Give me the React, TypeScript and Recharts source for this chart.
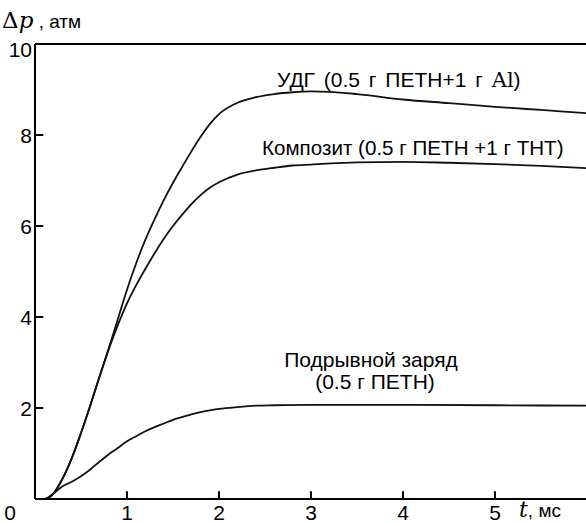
import React from "react";
import { LineChart, Line, XAxis, YAxis, ReferenceLine } from "recharts";

// время, мс и давление, атм
const udgT = [0, 0.1, 0.2, 0.3, 0.4, 0.5, 0.6, 0.7, 0.8, 0.9, 1.0, 1.1, 1.2, 1.3, 1.4, 1.5, 1.6, 1.7, 1.8, 1.9, 2.0, 2.2, 2.4, 2.6, 2.8, 3.0, 3.2, 3.5, 4.0, 4.5, 5.0, 5.5, 6.0];
const udgP = [0, 0, 0.12, 0.45, 0.9, 1.45, 2.05, 2.68, 3.3, 3.95, 4.6, 5.18, 5.7, 6.15, 6.57, 6.95, 7.3, 7.64, 7.96, 8.24, 8.46, 8.71, 8.83, 8.9, 8.94, 8.96, 8.95, 8.9, 8.78, 8.7, 8.62, 8.55, 8.48];

const compT = [0, 0.1, 0.2, 0.3, 0.4, 0.5, 0.6, 0.7, 0.8, 0.9, 1.0, 1.1, 1.2, 1.3, 1.4, 1.5, 1.6, 1.7, 1.8, 1.9, 2.0, 2.2, 2.4, 2.6, 2.8, 3.0, 3.5, 4.0, 4.5, 5.0, 5.5, 6.0];
const compP = [0, 0, 0.12, 0.45, 0.9, 1.45, 2.05, 2.68, 3.28, 3.82, 4.3, 4.7, 5.06, 5.4, 5.72, 6.0, 6.25, 6.48, 6.68, 6.84, 6.96, 7.13, 7.22, 7.28, 7.33, 7.35, 7.4, 7.41, 7.39, 7.36, 7.32, 7.27];

const chargeT = [0, 0.1, 0.2, 0.3, 0.4, 0.5, 0.6, 0.7, 0.8, 0.9, 1.0, 1.1, 1.2, 1.3, 1.4, 1.5, 1.6, 1.7, 1.8, 1.9, 2.0, 2.2, 2.4, 2.6, 3.0, 4.0, 5.0, 6.0];
const chargeP = [0, 0, 0.12, 0.28, 0.38, 0.5, 0.65, 0.82, 0.98, 1.12, 1.27, 1.38, 1.49, 1.58, 1.66, 1.74, 1.8, 1.86, 1.91, 1.95, 1.98, 2.02, 2.05, 2.06, 2.07, 2.07, 2.06, 2.05];

const xTicks = [0, 1, 2, 3, 4, 5, 6];
const yTicks = [0, 2, 4, 6, 8, 10];
const xInnerTicks = [1, 2, 3, 4, 5];
const yInnerTicks = [2, 4, 6, 8];
const xTickLen = 0.09; // в единицах оси t
const yTickLen = 0.17; // в единицах оси p

const toRows = (t: number[], p: number[]) => t.map((v, i) => ({ t: v, p: p[i] }));

const FONT = "'Liberation Sans', Arial, sans-serif";
const MATH = "'DejaVu Serif', 'Liberation Serif', serif";

// tickSize 6 + tickMargin 2 по умолчанию
const YTick = (props: any) => {
  const { x, y, payload } = props;
  const v = payload.value;
  if (v === 0) return null;
  return (
    <text x={x + 5} y={y + (v === 10 ? 13 : 7.5)} textAnchor="end" fontSize={21} fontFamily={FONT} fill="#000">
      {v}
    </text>
  );
};

const XTick = (props: any) => {
  const { x, y, payload } = props;
  const v = payload.value;
  if (v === 6) return null;
  return (
    <text x={v === 0 ? x - 25 : x} y={y + 13} textAnchor="middle" fontSize={21} fontFamily={FONT} fill="#000">
      {v}
    </text>
  );
};

export default function App() {
  return (
    <div style={{ position: "absolute", left: 0, top: 0, width: 586, height: 523, overflow: "hidden", background: "#fff" }}>
      <svg width={586} height={523} style={{ position: "absolute", left: 0, top: 0 }}>
        <text x={2} y={28} fontSize={23} fontFamily={MATH} fill="#000">
          <tspan>Δ</tspan>
          <tspan fontStyle="italic">p</tspan>
          <tspan fontFamily={FONT} fontSize={19}> , атм</tspan>
        </text>
        <text x={519} y={517} fontSize={22} fontFamily={MATH} fill="#000">
          <tspan fontStyle="italic">t</tspan>
          <tspan fontFamily={FONT} fontSize={19}>, мс</tspan>
        </text>
        <text x={277} y={87} fontSize={21} fontFamily={FONT} fill="#000" wordSpacing={3}>
          УДГ (0.5 г ПЕТН+1 г <tspan fontFamily={MATH}>Al</tspan>)
        </text>
        <text x={262} y={155} fontSize={20.6} fontFamily={FONT} fill="#000">
          Композит (0.5 г ПЕТН +1 г ТНТ)
        </text>
        <text x={371} y={367} textAnchor="middle" fontSize={21} fontFamily={FONT} fill="#000">
          Подрывной заряд
        </text>
        <text x={375} y={389} textAnchor="middle" fontSize={21} fontFamily={FONT} fill="#000">
          (0.5 г ПЕТН)
        </text>
      </svg>
      <div style={{ position: "absolute", left: 0, top: 0 }}>
        <LineChart width={600} height={523} margin={{ top: 44, right: 13, left: 0, bottom: 0 }}>
          <XAxis type="number" dataKey="t" domain={[0, 6]} ticks={xTicks} height={24} tickLine={false} tick={<XTick />} stroke="#000" />
          <YAxis type="number" dataKey="p" domain={[0, 10]} ticks={yTicks} width={35} tickLine={false} tick={<YTick />} stroke="#000" />
          <ReferenceLine y={10} stroke="#000" strokeWidth={2} />
          <ReferenceLine y={0} stroke="#000" strokeWidth={2} />
          <ReferenceLine x={0} stroke="#000" strokeWidth={2} />
          {xInnerTicks.map((t) => (
            <ReferenceLine key={`xt${t}`} segment={[{ x: t, y: 0 }, { x: t, y: yTickLen }]} stroke="#000" strokeWidth={2} />
          ))}
          {yInnerTicks.map((v) => (
            <ReferenceLine key={`yt${v}`} segment={[{ x: 0, y: v }, { x: xTickLen, y: v }]} stroke="#000" strokeWidth={2} />
          ))}
          <Line data={toRows(udgT, udgP)} dataKey="p" type="monotone" stroke="#111" strokeWidth={1.8} dot={false} isAnimationActive={false} />
          <Line data={toRows(compT, compP)} dataKey="p" type="monotone" stroke="#111" strokeWidth={1.8} dot={false} isAnimationActive={false} />
          <Line data={toRows(chargeT, chargeP)} dataKey="p" type="monotone" stroke="#111" strokeWidth={1.8} dot={false} isAnimationActive={false} />
        </LineChart>
      </div>
    </div>
  );
}
